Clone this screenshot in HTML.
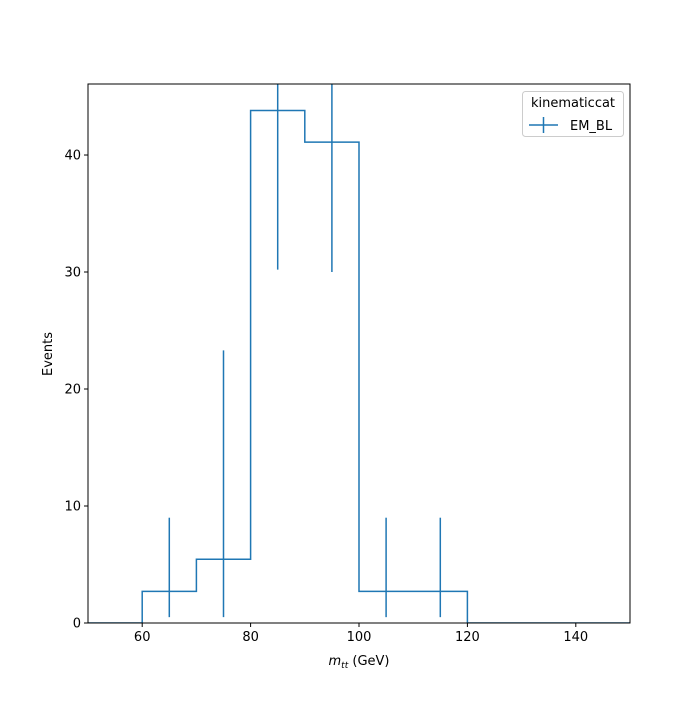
<!DOCTYPE html>
<html><head><meta charset="utf-8"><style>
body{margin:0;background:#fff}
svg{font-family:"DejaVu Sans","Liberation Sans",sans-serif}
</style></head><body>
<svg id="c" width="700" height="700" viewBox="0 0 700 700">
<rect width="700" height="700" fill="#fff"/>
<g id="plot"></g>
<rect x="88" y="84" width="542" height="539" fill="none" stroke="#000" stroke-width="1"/>
<g id="xt"></g><g id="yt"></g>
<text x="359" y="665" font-size="13" text-anchor="middle"><tspan font-style="italic">m</tspan><tspan font-style="italic" font-size="9" dy="3">tt</tspan><tspan dy="-3"> (GeV)</tspan></text>
<text transform="translate(52,354) rotate(-90)" font-size="13" text-anchor="middle">Events</text>
<g>
<rect x="522.5" y="91.5" width="101" height="45" rx="3" fill="#fff" stroke="#ccc"/>
<text x="573" y="107" font-size="13" text-anchor="middle">kinematiccat</text>
<line x1="529" y1="125" x2="558" y2="125" stroke="#1f77b4" stroke-width="1.5"/>
<line x1="543.5" y1="117" x2="543.5" y2="133" stroke="#1f77b4" stroke-width="1.5"/>
<text x="570" y="130" font-size="13">EM_BL</text>
</g>
</svg>
<script>
const edges=[50,60,70,80,90,100,110,120,130,140,150];
const counts=[0,2.7,5.45,43.8,41.1,2.7,2.7,0,0,0];
const errLow=[0,2.2,4.95,13.6,11.1,2.2,2.2,0,0,0];
const errHigh=[0,6.3,17.85,13.6,11.1,6.3,6.3,0,0,0];
const xTicks=[60,80,100,120,140];
const yTicks=[0,10,20,30,40];
const L=88,R=630,T=84,B=623,X0=50,X1=150,Y0=0,Y1=46.07;
const sx=v=>L+(v-X0)/(X1-X0)*(R-L);
const sy=v=>B-(v-Y0)/(Y1-Y0)*(B-T);
const NS="http://www.w3.org/2000/svg";
const mk=(t,a,p)=>{const e=document.createElementNS(NS,t);for(const k in a)e.setAttribute(k,a[k]);p.appendChild(e);return e;};
const plot=document.getElementById('plot');
const cp=mk('clipPath',{id:'cl'},plot);mk('rect',{x:L,y:T,width:R-L,height:B-T},cp);
const g=mk('g',{'clip-path':'url(#cl)'},plot);
let d='M'+sx(edges[0])+','+sy(0);
counts.forEach((c,i)=>{d+=' L'+sx(edges[i])+','+sy(c)+' L'+sx(edges[i+1])+','+sy(c);});
const st=mk('path',{d:d,fill:'none',stroke:'#1f77b4','stroke-width':1.5},g);


counts.forEach((c,i)=>{if(c<=0)return;const xc=sx((edges[i]+edges[i+1])/2);
const e=mk('line',{x1:xc,x2:xc,y1:sy(c-errLow[i]),y2:sy(c+errHigh[i]),stroke:'#1f77b4','stroke-width':1.5},g);

});
const xt=document.getElementById('xt'),yt=document.getElementById('yt');
xTicks.forEach(v=>{mk('line',{x1:sx(v),x2:sx(v),y1:B,y2:B+4,stroke:'#000'},xt);
const t=mk('text',{x:sx(v),y:B+18,'font-size':13,'text-anchor':'middle'},xt);t.textContent=v;

});
yTicks.forEach(v=>{mk('line',{x1:L-4,x2:L,y1:sy(v),y2:sy(v),stroke:'#000'},yt);
const t=mk('text',{x:L-7,y:sy(v)+4.5,'font-size':13,'text-anchor':'end'},yt);t.textContent=v;

});
</script>
</body></html>
